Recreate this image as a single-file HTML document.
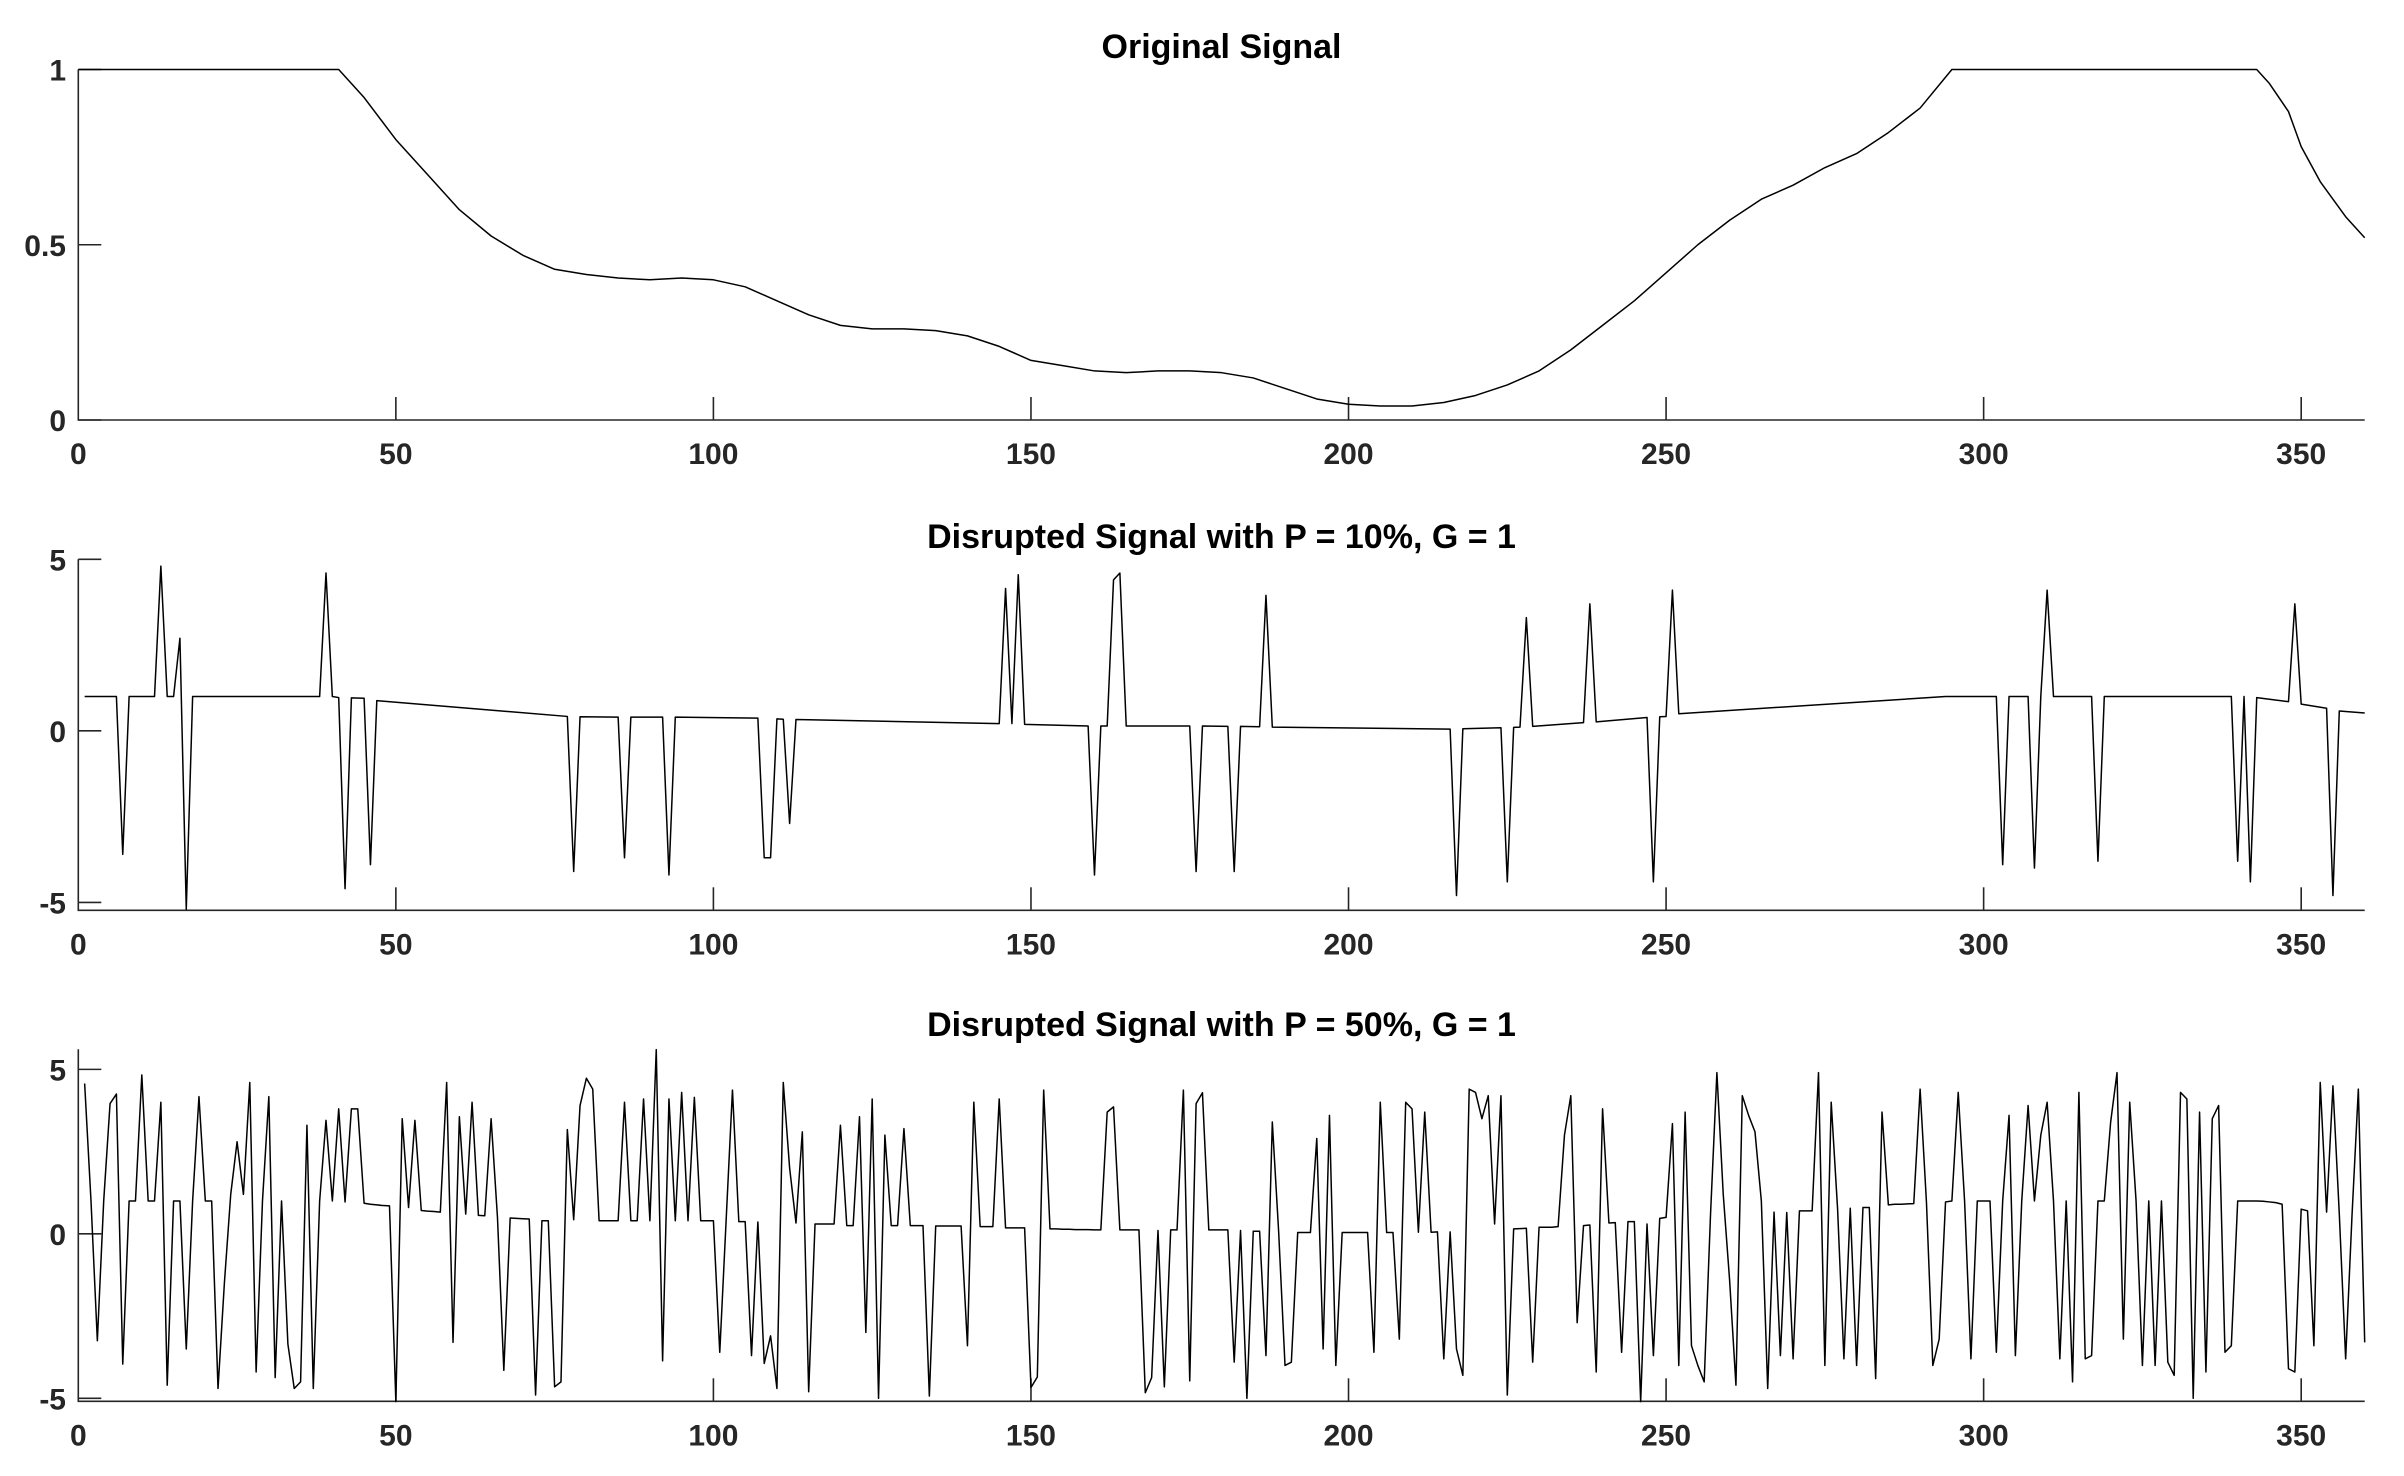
<!DOCTYPE html>
<html><head><meta charset="utf-8"><style>
html,body{margin:0;padding:0;background:#fff;}
svg{display:block;font-family:"Liberation Sans",Arial,sans-serif;}
.tk{font-size:30px;font-weight:bold;fill:#262626;}
.tt{font-size:34px;font-weight:bold;fill:#000;}
</style></head><body>
<svg id="fig" width="2404" height="1476" viewBox="0 0 2404 1476" xmlns="http://www.w3.org/2000/svg"></svg>
<script>
// ---- data ----
const xTicks = [0, 50, 100, 150, 200, 250, 300, 350];
const origX = [0,41,45,50,55,60,65,70,75,80,85,90,95,100,105,110,115,120,125,130,135,140,145,150,155,160,165,170,175,180,185,190,195,200,205,210,215,220,225,230,235,240,245,250,255,260,265,270,275,280,285,290,295,343,345,348,350,353,357,360];
const origY = [1,1,0.92,0.80,0.70,0.60,0.525,0.47,0.43,0.415,0.405,0.40,0.405,0.40,0.38,0.34,0.30,0.27,0.26,0.26,0.255,0.24,0.21,0.17,0.155,0.14,0.135,0.14,0.14,0.135,0.12,0.09,0.06,0.045,0.04,0.04,0.05,0.07,0.10,0.14,0.20,0.27,0.34,0.42,0.50,0.57,0.63,0.67,0.72,0.76,0.82,0.89,1.0,1.0,0.96,0.88,0.78,0.68,0.58,0.52];
const p10X = [1,6,7,8,12,13,14,15,16,17,18,38,39,40,41,42,43,45,46,47,77,78,79,85,86,87,92,93,94,107,108,109,110,111,112,113,145,146,147,148,149,159,160,161,162,163,164,165,175,176,177,181,182,183,186,187,188,216,217,218,224,225,226,227,228,229,237,238,239,247,248,249,250,251,252,294,302,303,304,307,308,309,310,311,317,318,319,339,340,341,342,343,348,349,350,354,355,356,360];
const p10Y = [1,1,-3.6,1,1,4.8,1,1,2.7,-5.2,1,1,4.6,1,0.97,-4.6,0.96,0.95,-3.9,0.88,0.42,-4.1,0.41,0.40,-3.7,0.40,0.40,-4.2,0.40,0.37,-3.7,-3.7,0.35,0.34,-2.7,0.33,0.21,4.15,0.21,4.55,0.19,0.14,-4.2,0.14,0.14,4.4,4.6,0.14,0.14,-4.1,0.14,0.13,-4.1,0.13,0.12,3.95,0.11,0.05,-4.8,0.06,0.09,-4.4,0.1,0.11,3.3,0.13,0.24,3.7,0.26,0.39,-4.4,0.41,0.42,4.1,0.5,1.0,1.0,-3.9,1.0,1.0,-4.0,1.0,4.1,1.0,1.0,-3.8,1.0,1.0,-3.8,1.0,-4.4,0.97,0.85,3.7,0.78,0.66,-4.8,0.58,0.52];
const p50Y = [
4.57,1.0,-3.25,1.0,3.96,4.25,-3.96,1.0,1.0,4.83,
1.0,1.0,4.0,-4.6,1.0,1.0,-3.5,1.0,4.17,1.0,
1.0,-4.7,-1.5,1.2,2.8,1.2,4.6,-4.2,1.0,4.17,
-4.37,1.0,-3.35,-4.7,-4.5,3.3,-4.7,1.0,3.45,1.0,
3.8,0.97,3.8,3.8,0.93,0.9,0.88,0.86,0.85,-5.1,
3.5,0.8,3.45,0.71,0.69,0.68,0.66,4.6,-3.3,3.56,
0.6,4.0,0.56,0.55,3.5,0.5,-4.15,0.48,0.47,0.46,
0.45,-4.9,0.4,0.4,-4.65,-4.5,3.17,0.43,3.9,4.73,
4.4,0.4,0.4,0.4,0.4,4.0,0.4,0.4,4.1,0.4,
5.6,-3.86,4.1,0.4,4.3,0.4,4.15,0.4,0.4,0.4,
-3.6,0.4,4.37,0.37,0.37,-3.7,0.36,-3.94,-3.1,-4.7,
4.6,2.0,0.33,3.1,-4.8,0.3,0.3,0.3,0.3,3.3,
0.25,0.25,3.56,-3.0,4.1,-5.0,3.0,0.25,0.25,3.2,
0.25,0.25,0.25,-4.93,0.24,0.24,0.24,0.24,0.24,-3.4,
4.0,0.22,0.22,0.22,4.1,0.18,0.18,0.18,0.18,-4.67,
-4.35,4.37,0.15,0.15,0.14,0.14,0.13,0.13,0.13,0.12,
0.12,3.7,3.86,0.12,0.12,0.12,0.12,-4.83,-4.37,0.1,
-4.65,0.12,0.12,4.37,-4.47,3.96,4.29,0.12,0.12,0.12,
0.12,-3.9,0.1,-5.0,0.08,0.08,-3.7,3.4,0.06,-4.0,
-3.9,0.04,0.04,0.04,2.9,-3.5,3.6,-4.0,0.04,0.04,
0.04,0.04,0.04,-3.6,4.0,0.04,0.04,-3.2,4.0,3.8,
0.05,3.7,0.05,0.06,-3.8,0.06,-3.5,-4.3,4.4,4.3,
3.5,4.2,0.3,4.2,-4.9,0.15,0.16,0.17,-3.9,0.2,
0.2,0.2,0.22,3.0,4.2,-2.7,0.25,0.27,-4.2,3.8,
0.33,0.34,-3.6,0.37,0.37,-5.1,0.3,-3.7,0.47,0.5,
3.35,-4.0,3.7,-3.4,-4.0,-4.5,0.6,4.9,1.2,-1.4,
-4.6,4.2,3.6,3.1,1.0,-4.7,0.66,-3.7,0.65,-3.8,
0.7,0.7,0.7,4.9,-4.0,4.0,0.77,-3.8,0.78,-4.0,
0.8,0.8,-4.4,3.7,0.88,0.9,0.9,0.91,0.92,4.4,
0.95,-4.0,-3.2,0.97,1.0,4.3,1.0,-3.8,1.0,1.0,
1.0,-3.6,1.0,3.6,-3.7,1.0,3.9,1.0,3.0,4.0,
1.0,-3.8,1.0,-4.5,4.3,-3.8,-3.7,1.0,1.0,3.4,
4.9,-3.2,4.0,1.0,-4.0,1.0,-4.0,1.0,-3.9,-4.3,
4.3,4.1,-5.0,3.7,-4.2,3.5,3.9,-3.6,-3.4,1.0,
1.0,1.0,1.0,0.99,0.97,0.95,0.9,-4.1,-4.2,0.75,
0.7,-3.4,4.6,0.66,4.5,0.6,-3.8,0.55,4.4,-3.3];
const p1YTicks = ["0","0.5","1"];
const p1YVals = [0, 0.5, 1];
const p23YTicks = ["-5","0","5"];
const p23YVals = [-5, 0, 5];

// ---- layout ----
const NS = "http://www.w3.org/2000/svg";
const svg = document.getElementById('fig');
const L = 78.3, R = 2364.7, XMIN = 0, XMAX = 360;
const xs = v => L + (v - XMIN) / (XMAX - XMIN) * (R - L);
function mk(tag, attrs, parent) {
  const e = document.createElementNS(NS, tag);
  for (const k in attrs) e.setAttribute(k, attrs[k]);
  (parent || svg).appendChild(e);
  return e;
}
const panels = [
  {name:'original', title:'Original Signal', top:69.5, bottom:420, ymin:0, ymax:1, tv:p1YVals, tl:p1YTicks, titleY:58},
  {name:'p10', title:'Disrupted Signal with P = 10%, G = 1', top:559.3, bottom:910.3, ymin:-5.23, ymax:5, tv:p23YVals, tl:p23YTicks, titleY:548},
  {name:'p50', title:'Disrupted Signal with P = 50%, G = 1', top:1049.3, bottom:1401.3, ymin:-5.09, ymax:5.61, tv:p23YVals, tl:p23YTicks, titleY:1036}
];
panels.forEach((p, pi) => {
  const g = mk('g', {});
  
  
  const ys = v => p.bottom - (v - p.ymin) / (p.ymax - p.ymin) * (p.bottom - p.top);
  const ax = mk('path', {d:`M${L} ${p.top}V${p.bottom}H${R}`, fill:'none', stroke:'#262626', 'stroke-width':1.6}, g);
  
  
  xTicks.forEach(t => {
    const x = xs(t);
    if (t > XMIN && t < XMAX) {
      const tk = mk('line', {x1:x, x2:x, y1:p.bottom, y2:p.bottom - 23, stroke:'#262626', 'stroke-width':1.6}, g);
      
      
    }
    const lb = mk('text', {x:x, y:p.bottom + 44, 'text-anchor':'middle', class:'tk'}, g);
    lb.textContent = String(t);
    
    
  });
  p.tv.forEach((v, i) => {
    const y = ys(v);
    const tk = mk('line', {x1:L, x2:L + 23, y1:y, y2:y, stroke:'#262626', 'stroke-width':1.6}, g);
    
    
    const lb = mk('text', {x:66, y:y + 11, 'text-anchor':'end', class:'tk'}, g);
    lb.textContent = p.tl[i];
    
    
  });
  const tt = mk('text', {x:(L + R) / 2, y:p.titleY, 'text-anchor':'middle', class:'tt'}, g);
  tt.textContent = p.title;
  
  
  let X, Y;
  if (pi === 0) { X = origX; Y = origY; }
  else if (pi === 1) { X = p10X; Y = p10Y; }
  else { X = p50Y.map((_, i) => i + 1); Y = p50Y; }
  const d = X.map((x, i) => (i ? 'L' : 'M') + xs(x).toFixed(2) + ' ' + ys(Y[i]).toFixed(2)).join('');
  const ln = mk('path', {d:d, fill:'none', stroke:'#000', 'stroke-width':1.5, 'stroke-linejoin':'round'}, g);
  
  
});
</script>
</body></html>
